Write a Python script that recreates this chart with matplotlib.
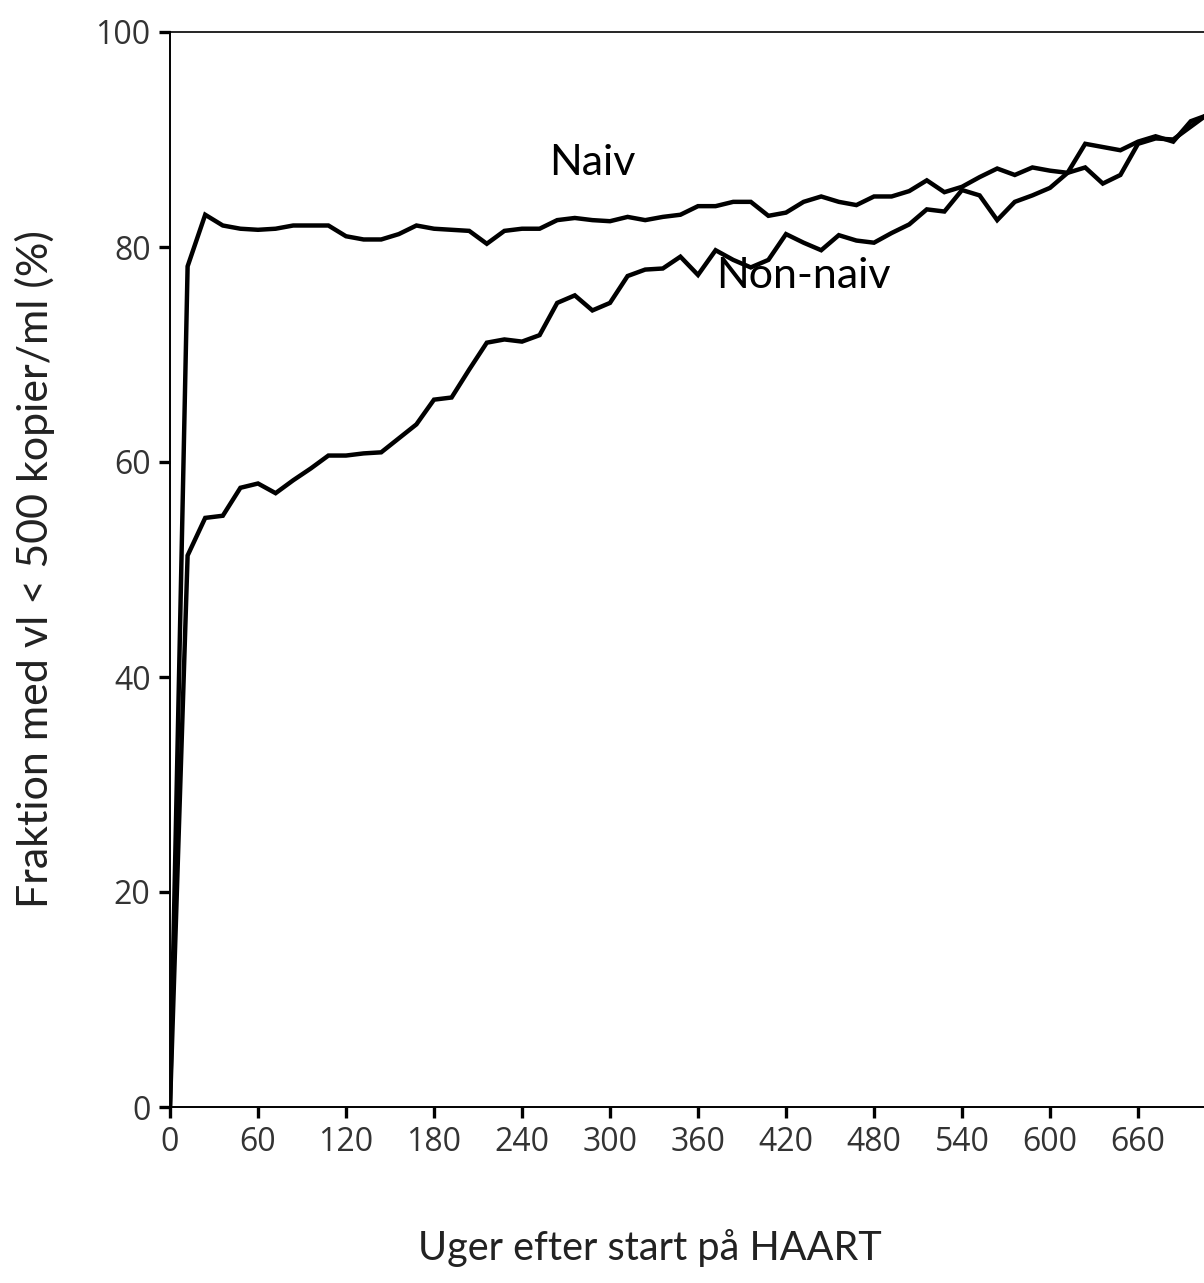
import matplotlib
matplotlib.use("Agg")
import matplotlib.pyplot as plt

# weeks after start of HAART (every 12 weeks)
weeks = [0, 12, 24, 36, 48, 60, 72, 84, 96, 108, 120, 132, 144, 156, 168,
         180, 192, 204, 216, 228, 240, 252, 264, 276, 288, 300, 312, 324, 336,
         348, 360, 372, 384, 396, 408, 420, 432, 444, 456, 468, 480, 492, 504,
         516, 528, 540, 552, 564, 576, 588, 600, 612, 624, 636, 648, 660, 672,
         684, 696, 708]

naiv = [0, 78.2, 83.0, 82.0, 81.7, 81.6, 81.7, 82.0, 82.0, 82.0, 81.0, 80.7,
        80.7, 81.2, 82.0, 81.7, 81.6, 81.5, 80.3, 81.5, 81.7, 81.7, 82.5, 82.7,
        82.5, 82.4, 82.8, 82.5, 82.8, 83.0, 83.8, 83.8, 84.2, 84.2, 82.9, 83.2,
        84.2, 84.7, 84.2, 83.9, 84.7, 84.7, 85.2, 86.2, 85.1, 85.6, 86.5, 87.3,
        86.7, 87.4, 87.1, 86.9, 87.4, 85.9, 86.7, 89.6, 90.1, 90.0, 91.2, 92.4]

non_naiv = [0, 51.3, 54.8, 55.0, 57.6, 58.0, 57.1, 58.3, 59.4, 60.6, 60.6,
            60.8, 60.9, 62.2, 63.5, 65.8, 66.0, 68.6, 71.1, 71.4, 71.2, 71.8,
            74.8, 75.5, 74.1, 74.8, 77.3, 77.9, 78.0, 79.1, 77.4, 79.7, 78.8,
            78.1, 78.8, 81.2, 80.4, 79.7, 81.1, 80.6, 80.4, 81.3, 82.1, 83.5,
            83.3, 85.3, 84.8, 82.5, 84.2, 84.8, 85.5, 86.9, 89.6, 89.3, 89.0,
            89.8, 90.3, 89.8, 91.7, 92.3]

xticks = list(range(0, 661, 60))
yticks = [0, 20, 40, 60, 80, 100]

fig = plt.figure(figsize=(12.04, 12.83), dpi=100)
ax = fig.add_axes([170 / 1204, 176 / 1283, 1034 / 1204, 1075 / 1283])

ax.plot(weeks, naiv, color="black", lw=3.2, solid_joinstyle="miter")
ax.plot(weeks, non_naiv, color="black", lw=3.2, solid_joinstyle="miter")

ax.set_xlim(0, 705)
ax.set_ylim(0, 100)
ax.set_xticks(xticks)
ax.set_yticks(yticks)

ax.spines["right"].set_visible(False)
ax.spines["left"].set_linewidth(1.4)
ax.spines["bottom"].set_linewidth(1.4)
ax.spines["top"].set_linewidth(1.2)

ax.tick_params(direction="out", length=8, width=2.4, color="black",
               labelsize=23, labelcolor="#333333", pad=6)
for lab in ax.get_xticklabels() + ax.get_yticklabels():
    lab.set_family("Open Sans")

ax.set_ylabel("Fraktion med vl < 500 kopier/ml (%)", fontsize=31,
              family="Lato", color="#222222")
ax.yaxis.set_label_coords(-0.1306, 0.5)
ax.yaxis.label.set_va("center")

ax.set_xlabel("Uger efter start på HAART", fontsize=28.5, family="Lato",
              color="#222222")
ax.xaxis.set_label_coords(0.464, -0.131)
ax.xaxis.label.set_va("center")

ax.text(288, 87.8, "Naiv", fontsize=31, family="Lato", ha="center", va="center")
ax.text(432, 77.3, "Non-naiv", fontsize=31, family="Lato", ha="center", va="center")

fig.savefig("out.png", dpi=100)
